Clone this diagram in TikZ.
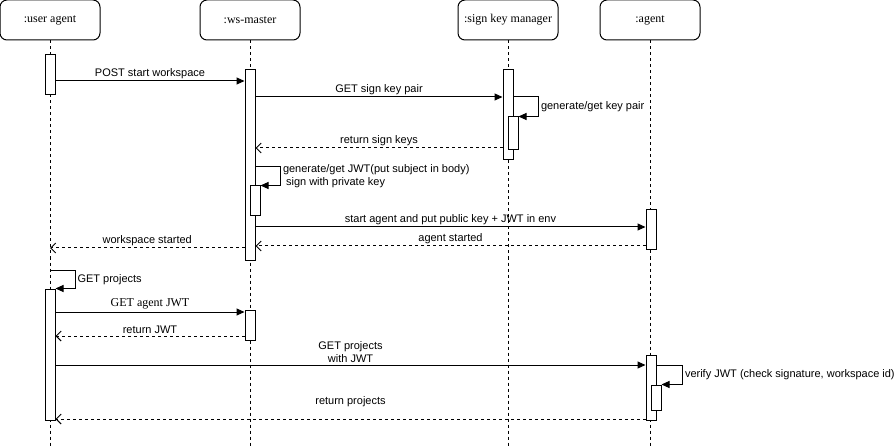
\documentclass[tikz,border=0pt]{standalone}
\usepackage{fontspec}
\setmainfont{Liberation Serif}
\setsansfont{Liberation Sans}
\usetikzlibrary{arrows.meta}
\tikzstyle{head} = [rectangle, rounded corners=7pt, minimum width=100pt, minimum height=40pt, draw=black, font=\fontsize{12}{14}\selectfont]
\tikzstyle{act} = [rectangle, minimum width=10pt, inner sep=0pt, draw=black, fill=white]
\tikzstyle{life} = [dash pattern=on 3pt off 3pt]
\tikzstyle{call} = [-{Triangle[length=8pt,width=7pt]}]
\tikzstyle{reply} = [dash pattern=on 3pt off 3pt, -{Straight Barb[length=5pt,width=10pt]}]
\tikzstyle{lab} = [font=\sffamily\fontsize{11}{13}\selectfont, inner sep=2pt]
\tikzstyle{labrm} = [font=\rmfamily\fontsize{12}{14}\selectfont, inner sep=2pt]

\begin{document}
\begin{tikzpicture}[x=1pt, y=-1pt, line width=1pt]
\useasboundingbox (0,0) rectangle (896,446);

\node(ua)  [head] at (50,20)  {:user agent};
\node(wm)  [head] at (250,20) {:ws-master};
\node(skm) [head] at (508,20) {:sign key manager};
\node(ag)  [head] at (650,20) {:agent};

\foreach \p in {ua,wm,skm,ag}
  \draw [life] (\p.south) -- (\p.south |- 0,446);

\node(ua1)  [act, minimum height=40pt]  at (50,75)    {};
\node(wm1)  [act, minimum height=190pt] at (250,165)  {};
\node(wm2)  [act, minimum height=30pt]  at (255,201)  {};
\node(skm1) [act, minimum height=90pt]  at (508,115)  {};
\node(skm2) [act, minimum height=33pt]  at (513,133.5) {};
\node(ag1)  [act, minimum height=40pt]  at (651,230)  {};
\node(ua2)  [act, minimum height=131pt] at (50,354.5) {};
\node(wm3)  [act, minimum height=30pt]  at (250,325)  {};
\node(ag2)  [act, minimum height=65pt]  at (651,387.5) {};
\node(ag3)  [act, minimum height=25pt]  at (656,397.5) {};

\draw [call] (ua1.east |- 0,81) -- node[lab, above]{POST start workspace} (wm1.west |- 0,81);
\draw [call] (wm1.east |- 0,97) -- node[lab, above]{GET sign key pair} (skm1.west |- 0,97);
\draw [call] (skm1.east |- 0,97) -- ++(25,0) |- node[lab, right, pos=0.25]{generate/get key pair} (skm2.north east);
\draw [reply] (skm1.west |- 0,148) -- node[lab, above]{return sign keys} (wm1.east |- 0,148);
\draw [call] (wm1.east |- 0,167) -- ++(25,0) |- node[lab, right, align=left, pos=0.25]{generate/get JWT(put subject in body)\\ \ sign with private key} (wm2.north east);
\draw [call] (wm1.east |- 0,227) -- node[lab, above]{start agent and put public key + JWT in env} (ag1.west |- 0,227);
\draw [reply] (ag1.west |- 0,246) -- node[lab, above]{agent started} (wm1.east |- 0,246);
\draw [reply] (wm1.west |- 0,248) -- node[lab, above]{workspace started} (ua.south |- 0,248);

\draw [call] (ua.south |- 0,270) -- ++(25,0) |- node[lab, right, pos=0.25]{GET projects} (ua2.north east);
\draw [call] (ua2.east |- 0,312) -- node[labrm, above]{GET agent JWT} (wm3.west |- 0,312);
\draw [reply] (wm3.west |- 0,336) -- node[lab, above]{return JWT} (ua2.east |- 0,336);
\draw [call] (ua2.east |- 0,365) -- node[lab, above, align=center]{GET projects\\ with JWT} (ag2.west |- 0,365);
\draw [call] (ag2.east |- 0,365) -- ++(26,0) |- node[lab, right, pos=0.25]{verify JWT (check signature, workspace id)} (ag3.north east);
\draw [reply] (ag2.west |- 0,419) -- node[lab, above, yshift=10pt]{return projects} (ua2.east |- 0,419);

\end{tikzpicture}
\end{document}
